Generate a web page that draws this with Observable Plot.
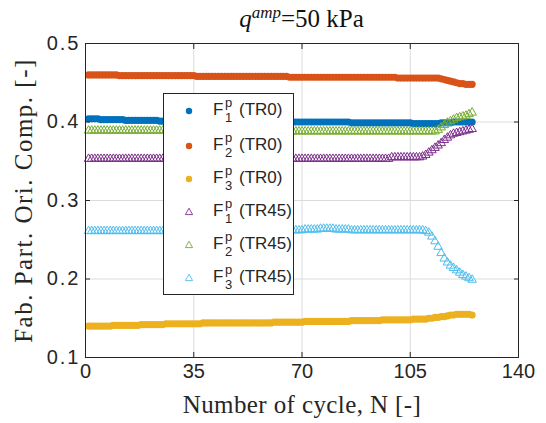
<!DOCTYPE html>
<html>
<head>
<meta charset="utf-8">
<script src="https://cdn.jsdelivr.net/npm/d3@7"></script>
<script src="https://cdn.jsdelivr.net/npm/@observablehq/plot@0.6"></script>
<style>
  html, body { margin: 0; padding: 0; background: #fff; }
  #wrap { position: relative; width: 546px; height: 423px; overflow: hidden; }
  #chart svg { display: block; }
  #title {
    position: absolute; left: 85px; width: 433px; top: 5px; text-align: center;
    font-family: "Liberation Serif", serif; font-size: 25px; color: #111; white-space: nowrap;
  }
  #title sup { font-size: 17px; vertical-align: 0; position: relative; top: -9px; }
  #legend {
    position: absolute; left: 163px; top: 93px; width: 131px; height: 202px;
    background: #fff; border: 1px solid #262626; box-sizing: border-box;
    font-family: "Liberation Sans", Arial, sans-serif; color: #262626;
  }
  .row { position: absolute; left: 0; height: 30px; width: 100%; }
  .row svg { position: absolute; left: 18px; top: 8px; }
  .row .F { position: absolute; left: 49px; top: 4px; font-size: 17px; }
  .row .sup { position: absolute; left: 61px; top: -1px; font-size: 13px; }
  .row .sub { position: absolute; left: 61px; top: 14px; font-size: 13px; }
  .row .tr { position: absolute; left: 75px; top: 4px; font-size: 17px; }
  .ylab text { letter-spacing: 1.5px; }
  .xlab text { letter-spacing: 0.4px; }
  .yticks text { letter-spacing: 2px; }
</style>
</head>
<body>
<div id="wrap">
  <div id="chart"></div>
  <div id="title"><i>q</i><sup><i>amp</i></sup>=50 kPa</div>
  <div id="legend"></div>
</div>
<script>
// Fabric orientation components per loading cycle (N = 1 … 125)
const cycles = d3.range(1, 126);

const f1TR0 = [
  0.404,0.404,0.404,0.404,0.403,0.403,0.403,0.403,0.403,0.403,0.403,0.403,0.402,0.402,0.402,0.402,0.402,0.402,0.402,0.402,0.402,0.402,0.402,0.401,0.401,
  0.401,0.401,0.401,0.401,0.401,0.401,0.401,0.401,0.401,0.401,0.401,0.401,0.401,0.401,0.401,0.400,0.400,0.400,0.400,0.400,0.400,0.400,0.400,0.400,0.400,
  0.400,0.400,0.400,0.400,0.400,0.400,0.400,0.400,0.400,0.400,0.400,0.400,0.400,0.400,0.400,0.400,0.400,0.400,0.400,0.400,0.400,0.400,0.400,0.400,0.400,
  0.400,0.400,0.400,0.400,0.400,0.400,0.400,0.400,0.400,0.400,0.399,0.399,0.399,0.399,0.399,0.399,0.399,0.399,0.399,0.399,0.399,0.399,0.399,0.399,0.399,
  0.399,0.399,0.399,0.399,0.399,0.398,0.398,0.398,0.398,0.398,0.398,0.398,0.398,0.398,0.399,0.399,0.399,0.399,0.400,0.400,0.400,0.400,0.400,0.400,0.400
];
const f2TR0 = [
  0.460,0.460,0.460,0.460,0.460,0.460,0.460,0.460,0.460,0.460,0.459,0.459,0.459,0.459,0.459,0.459,0.459,0.459,0.459,0.459,0.459,0.459,0.459,0.459,0.459,
  0.459,0.459,0.459,0.459,0.459,0.459,0.459,0.459,0.459,0.459,0.458,0.458,0.458,0.458,0.458,0.458,0.458,0.458,0.458,0.458,0.458,0.458,0.458,0.458,0.458,
  0.458,0.458,0.458,0.458,0.458,0.458,0.458,0.458,0.458,0.458,0.458,0.458,0.458,0.458,0.458,0.457,0.457,0.457,0.457,0.457,0.457,0.457,0.457,0.457,0.457,
  0.457,0.457,0.457,0.457,0.457,0.457,0.457,0.457,0.457,0.457,0.457,0.457,0.457,0.457,0.457,0.457,0.457,0.457,0.457,0.457,0.457,0.457,0.457,0.457,0.457,
  0.456,0.456,0.456,0.456,0.456,0.456,0.456,0.456,0.456,0.456,0.456,0.456,0.456,0.456,0.455,0.454,0.453,0.452,0.451,0.450,0.449,0.449,0.448,0.448,0.448
];
const f3TR0 = [
  0.140,0.140,0.140,0.140,0.140,0.140,0.140,0.140,0.141,0.141,0.141,0.141,0.141,0.141,0.141,0.141,0.141,0.142,0.142,0.142,0.142,0.142,0.142,0.142,0.142,
  0.143,0.143,0.143,0.143,0.143,0.143,0.143,0.143,0.143,0.143,0.143,0.143,0.144,0.144,0.144,0.144,0.144,0.144,0.144,0.144,0.144,0.144,0.144,0.144,0.144,
  0.144,0.144,0.144,0.144,0.144,0.144,0.144,0.144,0.144,0.144,0.145,0.145,0.145,0.145,0.145,0.145,0.145,0.145,0.145,0.145,0.146,0.146,0.146,0.146,0.146,
  0.146,0.146,0.146,0.146,0.146,0.146,0.146,0.146,0.146,0.146,0.147,0.147,0.147,0.147,0.147,0.147,0.147,0.147,0.147,0.147,0.148,0.148,0.148,0.148,0.148,
  0.148,0.148,0.148,0.148,0.148,0.149,0.149,0.149,0.149,0.149,0.150,0.150,0.151,0.151,0.152,0.152,0.153,0.154,0.154,0.155,0.155,0.155,0.155,0.155,0.154
];
const f1TR45 = [
  0.353,0.353,0.353,0.353,0.353,0.353,0.353,0.353,0.353,0.353,0.353,0.353,0.353,0.353,0.353,0.353,0.353,0.353,0.353,0.353,0.353,0.353,0.353,0.353,0.353,
  0.353,0.353,0.353,0.353,0.353,0.353,0.353,0.353,0.353,0.353,0.353,0.353,0.353,0.353,0.353,0.353,0.353,0.353,0.353,0.353,0.353,0.353,0.353,0.353,0.353,
  0.353,0.353,0.353,0.353,0.353,0.353,0.353,0.353,0.353,0.353,0.353,0.353,0.353,0.353,0.353,0.353,0.353,0.353,0.353,0.353,0.353,0.353,0.353,0.353,0.353,
  0.353,0.353,0.353,0.353,0.353,0.353,0.353,0.353,0.353,0.353,0.353,0.353,0.353,0.353,0.353,0.353,0.353,0.353,0.353,0.353,0.353,0.353,0.353,0.355,0.355,
  0.355,0.355,0.355,0.355,0.355,0.355,0.355,0.355,0.356,0.358,0.361,0.364,0.367,0.370,0.373,0.377,0.380,0.383,0.385,0.386,0.387,0.388,0.389,0.390,0.391
];
const f2TR45 = [
  0.389,0.389,0.389,0.389,0.389,0.389,0.389,0.389,0.389,0.389,0.389,0.389,0.389,0.389,0.389,0.389,0.389,0.389,0.389,0.389,0.389,0.389,0.389,0.389,0.389,
  0.389,0.389,0.389,0.389,0.389,0.389,0.389,0.389,0.389,0.389,0.389,0.389,0.389,0.389,0.389,0.389,0.389,0.389,0.389,0.389,0.389,0.389,0.389,0.389,0.389,
  0.388,0.388,0.388,0.388,0.388,0.388,0.388,0.388,0.388,0.388,0.388,0.388,0.388,0.388,0.388,0.388,0.388,0.388,0.388,0.388,0.388,0.388,0.388,0.388,0.388,
  0.388,0.388,0.388,0.388,0.388,0.388,0.388,0.388,0.388,0.388,0.388,0.388,0.388,0.388,0.388,0.388,0.388,0.388,0.388,0.388,0.388,0.388,0.388,0.388,0.388,
  0.388,0.388,0.388,0.388,0.388,0.388,0.388,0.388,0.388,0.388,0.388,0.388,0.388,0.390,0.393,0.396,0.399,0.401,0.403,0.405,0.406,0.407,0.408,0.410,0.412
];
const f3TR45 = [
  0.261,0.261,0.261,0.261,0.261,0.261,0.261,0.261,0.261,0.261,0.261,0.261,0.261,0.261,0.261,0.261,0.261,0.261,0.261,0.261,0.261,0.261,0.261,0.261,0.261,
  0.261,0.261,0.261,0.261,0.261,0.261,0.261,0.261,0.261,0.261,0.261,0.261,0.261,0.261,0.261,0.261,0.261,0.261,0.261,0.261,0.261,0.261,0.261,0.261,0.261,
  0.262,0.262,0.262,0.262,0.262,0.262,0.262,0.262,0.262,0.262,0.262,0.262,0.262,0.262,0.262,0.262,0.262,0.262,0.262,0.262,0.263,0.263,0.263,0.263,0.263,
  0.264,0.264,0.264,0.264,0.264,0.263,0.263,0.263,0.263,0.263,0.262,0.262,0.262,0.262,0.262,0.262,0.262,0.262,0.262,0.262,0.262,0.262,0.262,0.262,0.262,
  0.262,0.262,0.262,0.262,0.262,0.262,0.262,0.262,0.262,0.261,0.259,0.254,0.248,0.241,0.233,0.226,0.221,0.217,0.214,0.211,0.208,0.205,0.203,0.201,0.199
];

const xTicks = [0, 35, 70, 105, 140];
const yTicks = [0.1, 0.2, 0.3, 0.4, 0.5];

// Series in drawing order, MATLAB default colour order
const series = [
  {name: "1", test: "TR0",  values: f1TR0,  color: "#0072BD", symbol: "circle"},
  {name: "2", test: "TR0",  values: f2TR0,  color: "#D95319", symbol: "circle"},
  {name: "3", test: "TR0",  values: f3TR0,  color: "#EDB120", symbol: "circle"},
  {name: "1", test: "TR45", values: f1TR45, color: "#7E2F8E", symbol: "triangle"},
  {name: "2", test: "TR45", values: f2TR45, color: "#77AC30", symbol: "triangle"},
  {name: "3", test: "TR45", values: f3TR45, color: "#4DBEEE", symbol: "triangle"}
];

const seriesMarks = series.map(s => {
  const rows = s.values.map((v, i) => ({N: cycles[i], F: v}));
  return s.symbol === "circle"
    ? Plot.dot(rows, {x: "N", y: "F", r: 3.6, fill: s.color, stroke: "none"})
    : Plot.dot(rows, {x: "N", y: "F", r: 3.2, symbol: "triangle", fill: "none", stroke: s.color, strokeWidth: 1});
});

const tickFont = {fontSize: 20, fontFamily: "Liberation Sans, Arial, sans-serif"};
const serif = "Liberation Serif, serif";

const chart = Plot.plot({
  width: 546,
  height: 423,
  marginTop: 43,
  marginBottom: 66,
  marginLeft: 85,
  marginRight: 28,
  style: {background: "#fff", color: "#262626", overflow: "visible"},
  x: {domain: [0, 140]},
  y: {domain: [0.1, 0.5]},
  marks: [
    Plot.gridX(xTicks.slice(1, -1), {stroke: "#dcdcdc", strokeOpacity: 1}),
    Plot.gridY(yTicks.slice(1, -1), {stroke: "#dcdcdc", strokeOpacity: 1}),
    ...seriesMarks,
    Plot.frame({stroke: "#262626", strokeWidth: 1}),
    Plot.axisX(xTicks, {anchor: "bottom", tickSize: -5, tickPadding: 11, label: null, ...tickFont}),
    Plot.axisX(xTicks, {anchor: "top", tickSize: -5, tickFormat: () => "", label: null}),
    Plot.axisY(yTicks, {anchor: "left", tickSize: -5, tickPadding: 10, tickFormat: d => d.toFixed(1), label: null, className: "yticks", ...tickFont}),
    Plot.axisY(yTicks, {anchor: "right", tickSize: -5, tickFormat: () => "", label: null}),
    Plot.text(["Number of cycle, N [-]"], {frameAnchor: "bottom", dy: 55, fontSize: 25, fontFamily: serif, fill: "#262626", className: "xlab"}),
    Plot.text(["Fab. Part. Ori. Comp. [-]"], {frameAnchor: "left", dx: -62, rotate: -90, textAnchor: "middle", fontSize: 25, fontFamily: serif, fill: "#262626", className: "ylab"})
  ]
});
document.getElementById("chart").appendChild(chart);

// Legend entries
const legend = document.getElementById("legend");
const rowTops = [2, 37, 70, 103, 136, 169];
series.forEach((s, i) => {
  const row = document.createElement("div");
  row.className = "row";
  row.style.top = rowTops[i] + "px";
  const mark = s.symbol === "circle"
    ? `<circle cx="7" cy="7" r="3.2" fill="${s.color}"/>`
    : `<path d="M7,3.2 L10.6,9.6 L3.4,9.6 Z" fill="none" stroke="${s.color}" stroke-width="0.9"/>`;
  row.innerHTML = `<svg width="14" height="14">${mark}</svg>` +
    `<span class="F">F</span><span class="sup">p</span><span class="sub">${s.name}</span>` +
    `<span class="tr">(${s.test})</span>`;
  legend.appendChild(row);
});
</script>
</body>
</html>
